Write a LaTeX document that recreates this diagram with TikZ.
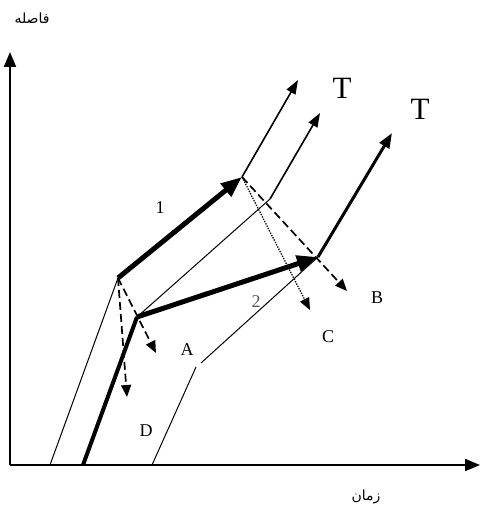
\documentclass[tikz,border=0pt]{standalone}
\usepackage{fontspec}
\setmainfont{Liberation Serif}
\newfontfamily\arabicfont[Script=Arabic]{DejaVu Sans}
\TeXXeTstate=1
\usetikzlibrary{arrows.meta}
\begin{document}
\begin{tikzpicture}[x=1pt,y=-1pt,
  axis/.style={line width=2pt,-{Triangle[length=15pt,width=12pt]}},
  thinline/.style={line width=1pt},
  thinarrow/.style={line width=1.6pt,-{Triangle[length=14pt,width=10pt]}},
  bigarrow/.style={line width=5pt,-{Triangle[length=21pt,width=16pt]}},
  dasharrow/.style={line width=1.7pt,dash pattern=on 8pt off 4pt,-{Triangle[length=12pt,width=10pt]}},
  dotarrow/.style={line width=1.3pt,dash pattern=on 1.3pt off 1.3pt,-{Triangle[length=12pt,width=10pt]}},
  lbl/.style={font=\fontsize{18}{18}\selectfont},
  tlbl/.style={font=\fontsize{31}{31}\selectfont},
  fa/.style={font=\arabicfont\fontsize{14}{14}\selectfont}]
\useasboundingbox (0,0) rectangle (480,508);
% axes
\coordinate (O) at (10,465);
\coordinate (Ytop) at (10,52);
\coordinate (Xend) at (480,465);
\draw[axis] (O) -- (Ytop);
\draw[axis] (O) -- (Xend);
\node[fa] (ylab) at (32,18) {\beginR فاصله\endR};
\node[fa] (xlab) at (366,497) {\beginR زمان\endR};
% trajectory 1
\coordinate (a0) at (50,465);
\coordinate (a1) at (118,278);
\coordinate (a2) at (242,177);
\coordinate (a3) at (298,80);
\draw[thinline] (a0) -- (a1);
\draw[bigarrow] (a1) -- (a2);
\draw[thinarrow] (a2) -- (a3);
% trajectory 2
\coordinate (b0) at (83,465);
\coordinate (b1) at (137,317);
\coordinate (b2) at (270,199);
\coordinate (b3) at (320,113);
\draw[line width=4pt] (b0) -- (b1);
\draw[thinline] (b1) -- (b2);
\draw[thinarrow] (b2) -- (b3);
% trajectory 3
\coordinate (c0) at (152,465);
\coordinate (c1) at (196,367);
\coordinate (c1b) at (201,363);
\coordinate (c2) at (318,257);
\coordinate (c3) at (392,133);
\draw[thinline] (c0) -- (c1);
\draw[thinline] (c1b) -- (c2);
\draw[bigarrow] (b1) -- (c2);
\draw[line width=3pt,-{Triangle[length=15pt,width=11pt]}] (c2) -- (c3);
% dashed / dotted
\coordinate (dD) at (127,397);
\coordinate (dA) at (156,353);
\coordinate (dB) at (347,291);
\coordinate (dC) at (310,310);
\draw[dasharrow] (a1) -- (dD);
\draw[dasharrow] (a1) -- (dA);
\draw[dasharrow] (a2) -- (dB);
\draw[dotarrow] (a2) -- (dC);
% labels
\node[tlbl] (T1) at (342,88) {T};
\node[tlbl] (T2) at (420,109) {T};
\node[lbl] (n1) at (160,208) {1};
\node[lbl,text=black!65] (n2) at (256,302) {2};
\node[lbl] (A) at (187,350) {A};
\node[lbl] (B) at (377,298) {B};
\node[lbl] (C) at (328,337) {C};
\node[lbl] (D) at (146,431) {D};
\end{tikzpicture}
\end{document}
